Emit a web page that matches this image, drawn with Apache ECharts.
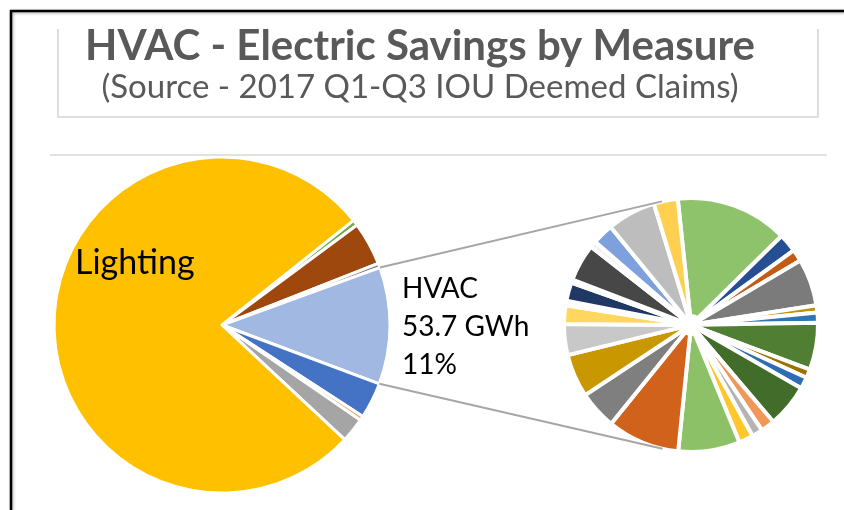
<!DOCTYPE html>
<html>
<head>
<meta charset="utf-8">
<script src="https://cdn.jsdelivr.net/npm/echarts@6/dist/echarts.min.js"></script>
<style>
  html, body { margin: 0; padding: 0; background: #fff; }
  #chart { width: 844px; height: 510px; }
</style>
</head>
<body>
<div id="chart"></div>
<script>
var titleText = 'HVAC - Electric Savings by Measure';
var subText = '(Source - 2017 Q1-Q3 IOU Deemed Claims)';

// all deemed savings, GWh, clockwise from the top right of the big pie
var sectorNames = ['Other A', 'Other B', 'Other C', 'HVAC', 'Other D', 'Other E', 'Other F', 'Lighting'];
var sectorValues = [2.65, 19.9, 2.0, 53.7, 16.6, 2.0, 11.3, 369.3];
var sectorColors = ['#70AD47', '#9E480E', '#808080', '#A0B8E2', '#4472C4', '#F4A070', '#A5A5A5', '#FFC000'];

// HVAC savings by measure, GWh, clockwise from the top
var hvacValues = [7.68, 1.27, 0.82, 3.21, 0.49, 0.70, 3.21, 0.60, 0.79, 2.95, 0.95, 0.75, 0.98, 4.21,
                  4.95, 2.61, 2.95, 2.12, 1.27, 0.30, 1.27, 0.22, 2.54, 0.45, 1.43, 3.34, 1.64];
var hvacColors = ['#8FC36B', '#264F93', '#C55A11', '#7B7B7B', '#BF9000', '#2E75B6', '#507E32', '#9C7200',
                  '#2E6DB4', '#416C29', '#F1975A', '#B4B4B4', '#FFC72C', '#8CC168', '#D0621B', '#7F7F7F',
                  '#C99700', '#C8C8C8', '#FFD75E', '#F2F2F2', '#203864', '#F2F2F2', '#474747', '#F2F2F2',
                  '#7EA0DC', '#BDBDBD', '#FFD050'];

var bigC = [222, 325], bigR = 168, bigStart = 38.5;
var smallC = [691, 325], smallR = 127;

var bigData = sectorNames.map(function (n, i) {
    return { name: n, value: sectorValues[i], itemStyle: { color: sectorColors[i] } };
});
var hvacData = hvacValues.map(function (v, i) {
    return { name: 'HVAC measure ' + (i + 1), value: v, itemStyle: { color: hvacColors[i] } };
});

// edges of the HVAC slice, from the data
var total = sectorValues.reduce(function (a, b) { return a + b; }, 0);
var hvacIdx = sectorNames.indexOf('HVAC');
var before = 0;
for (var k = 0; k < hvacIdx; k++) before += sectorValues[k];
var a0 = (bigStart - before / total * 360) * Math.PI / 180;
var a1 = (bigStart - (before + sectorValues[hvacIdx]) / total * 360) * Math.PI / 180;
var pTop = [bigC[0] + bigR * Math.cos(a0), bigC[1] - bigR * Math.sin(a0)];
var pBot = [bigC[0] + bigR * Math.cos(a1), bigC[1] - bigR * Math.sin(a1)];

// tangent point on the small pie seen from p
function tangent(p, upper) {
    var dx = p[0] - smallC[0], dy = p[1] - smallC[1];
    var d = Math.sqrt(dx * dx + dy * dy);
    var base = Math.atan2(dy, dx), a = Math.acos(smallR / d);
    var t1 = [smallC[0] + smallR * Math.cos(base + a), smallC[1] + smallR * Math.sin(base + a)];
    var t2 = [smallC[0] + smallR * Math.cos(base - a), smallC[1] + smallR * Math.sin(base - a)];
    if (upper) return t1[1] < t2[1] ? t1 : t2;
    return t1[1] > t2[1] ? t1 : t2;
}
var tTop = tangent(pTop, true), tBot = tangent(pBot, false);

var hvacPct = Math.round(sectorValues[hvacIdx] / total * 100);
var hvacLabel = 'HVAC\n' + sectorValues[hvacIdx] + ' GWh\n' + hvacPct + '%';

var font = 'Lato, "Noto Sans", sans-serif';

var option = {
    backgroundColor: '#fff',
    animation: false,
    series: [
        {
            type: 'pie',
            center: bigC,
            radius: [0, bigR],
            startAngle: bigStart,
            clockwise: true,
            label: { show: false },
            labelLine: { show: false },
            emphasis: { disabled: true },
            itemStyle: { borderColor: '#fff', borderWidth: 3 },
            data: bigData
        },
        {
            type: 'pie',
            center: smallC,
            radius: [9, smallR],
            startAngle: 96,
            clockwise: true,
            label: { show: false },
            labelLine: { show: false },
            emphasis: { disabled: true },
            itemStyle: { borderColor: '#fff', borderWidth: 4 },
            data: hvacData
        }
    ],
    graphic: [
        { type: 'polyline', z: 10, shape: { points: [[11, 510], [11, 11], [844, 11]] },
          style: { stroke: '#000', lineWidth: 2.5, fill: null, shadowBlur: 3, shadowColor: 'rgba(0,0,0,0.35)', shadowOffsetX: 1, shadowOffsetY: 1 } },
        { type: 'polyline', z: 10, shape: { points: [[58, 29], [58, 117], [818, 117], [818, 29]] },
          style: { stroke: '#D4D4D4', lineWidth: 1.5, fill: null } },
        { type: 'line', z: 10, shape: { x1: 50, y1: 155, x2: 827, y2: 155 },
          style: { stroke: '#D9D9D9', lineWidth: 1.5 } },
        { type: 'line', z: 10, shape: { x1: pTop[0], y1: pTop[1], x2: tTop[0], y2: tTop[1] },
          style: { stroke: '#A6A6A6', lineWidth: 2 } },
        { type: 'line', z: 10, shape: { x1: pBot[0], y1: pBot[1], x2: tBot[0], y2: tBot[1] },
          style: { stroke: '#A6A6A6', lineWidth: 2 } },
        { type: 'text', z: 10, x: 420, y: 46,
          style: { text: titleText, font: 'bold 42px ' + font, fill: '#595959', align: 'center', verticalAlign: 'middle' } },
        { type: 'text', z: 10, x: 420, y: 87,
          style: { text: subText, font: '33px ' + font, fill: '#595959', align: 'center', verticalAlign: 'middle' } },
        { type: 'text', z: 10, x: 75, y: 263,
          style: { text: 'Lighting', font: '34px ' + font, fill: '#000', align: 'left', verticalAlign: 'middle' } },
        { type: 'text', z: 10, x: 402, y: 327,
          style: { text: hvacLabel, font: '28px ' + font, lineHeight: 38, fill: '#000', align: 'left', verticalAlign: 'middle' } }
    ]
};

var myChart = echarts.init(document.getElementById('chart'));
myChart.setOption(option);
</script>
</body>
</html>
